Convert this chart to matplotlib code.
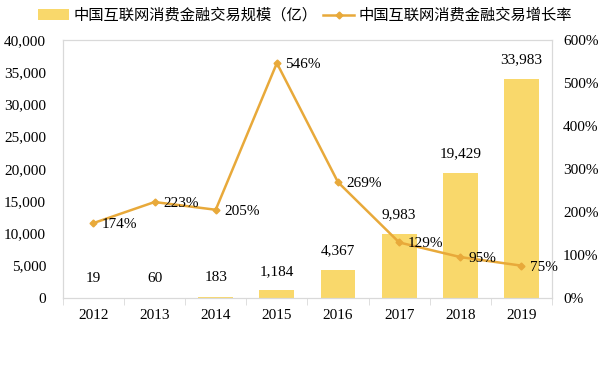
import numpy as np
import matplotlib.pyplot as plt

# Chart data
years = ["2012", "2013", "2014", "2015", "2016", "2017", "2018", "2019"]
volume = [19, 60, 183, 1184, 4367, 9983, 19429, 33983]      # 亿
growth = [174, 223, 205, 546, 269, 129, 95, 75]              # %

bar_label = "中国互联网消费金融交易规模（亿）"
line_label = "中国互联网消费金融交易增长率"

bar_color = "#F9D86B"
line_color = "#E8A93A"
grid_color = "#D9D9D9"

plt.rcParams['font.family'] = ['Liberation Serif', 'Noto Sans CJK SC', 'DejaVu Sans']

fig = plt.figure(figsize=(6.1, 3.66), dpi=100)
ax = fig.add_axes([0.103, 0.186, 0.802, 0.705])
ax2 = ax.twinx()

x = np.arange(len(years))
bars = ax.bar(x, volume, width=0.57, color=bar_color, label=bar_label, zorder=2)
ax.set_xlim(-0.5, len(years) - 0.5)
ax.set_ylim(0, 40000)
ax.set_yticks(np.arange(0, 40001, 5000))
ax.set_yticklabels([f"{v:,}" for v in range(0, 40001, 5000)], fontsize=11)
ax.set_xticks(x)
ax.set_xticklabels(years, fontsize=11)
ax.set_xticks(np.arange(-0.5, len(years)), minor=True)
ax.tick_params(axis='x', which='major', length=0, pad=8)
ax.tick_params(axis='x', which='minor', length=5, color=grid_color)
ax.tick_params(axis='y', length=0, pad=12)

for xi, v in zip(x, volume):
    ax.annotate(f"{v:,}", (xi, v), xytext=(0, 9), textcoords='offset points',
                ha='center', va='bottom', fontsize=11)

line, = ax2.plot(x, growth, color=line_color, lw=1.8, marker='D', markersize=3.5,
                 label=line_label, zorder=3)
ax2.set_ylim(0, 600)
ax2.set_yticks(np.arange(0, 601, 100))
ax2.set_yticklabels([f"{v}%" for v in range(0, 601, 100)], fontsize=11)
ax2.tick_params(axis='y', length=0, pad=8)

for xi, g in zip(x, growth):
    ax2.annotate(f"{g}%", (xi, g), xytext=(6, -1), textcoords='offset points',
                 ha='left', va='center', fontsize=11)

for a in (ax, ax2):
    for s in a.spines.values():
        s.set_color(grid_color)
        s.set_linewidth(0.8)

fig.legend(handles=[bars, line], loc='upper center', bbox_to_anchor=(0.5, 1.015),
           ncol=2, frameon=False, fontsize=11, handlelength=2.0, handletextpad=0.3,
           columnspacing=0.4)

fig.savefig("out.png", dpi=100)
